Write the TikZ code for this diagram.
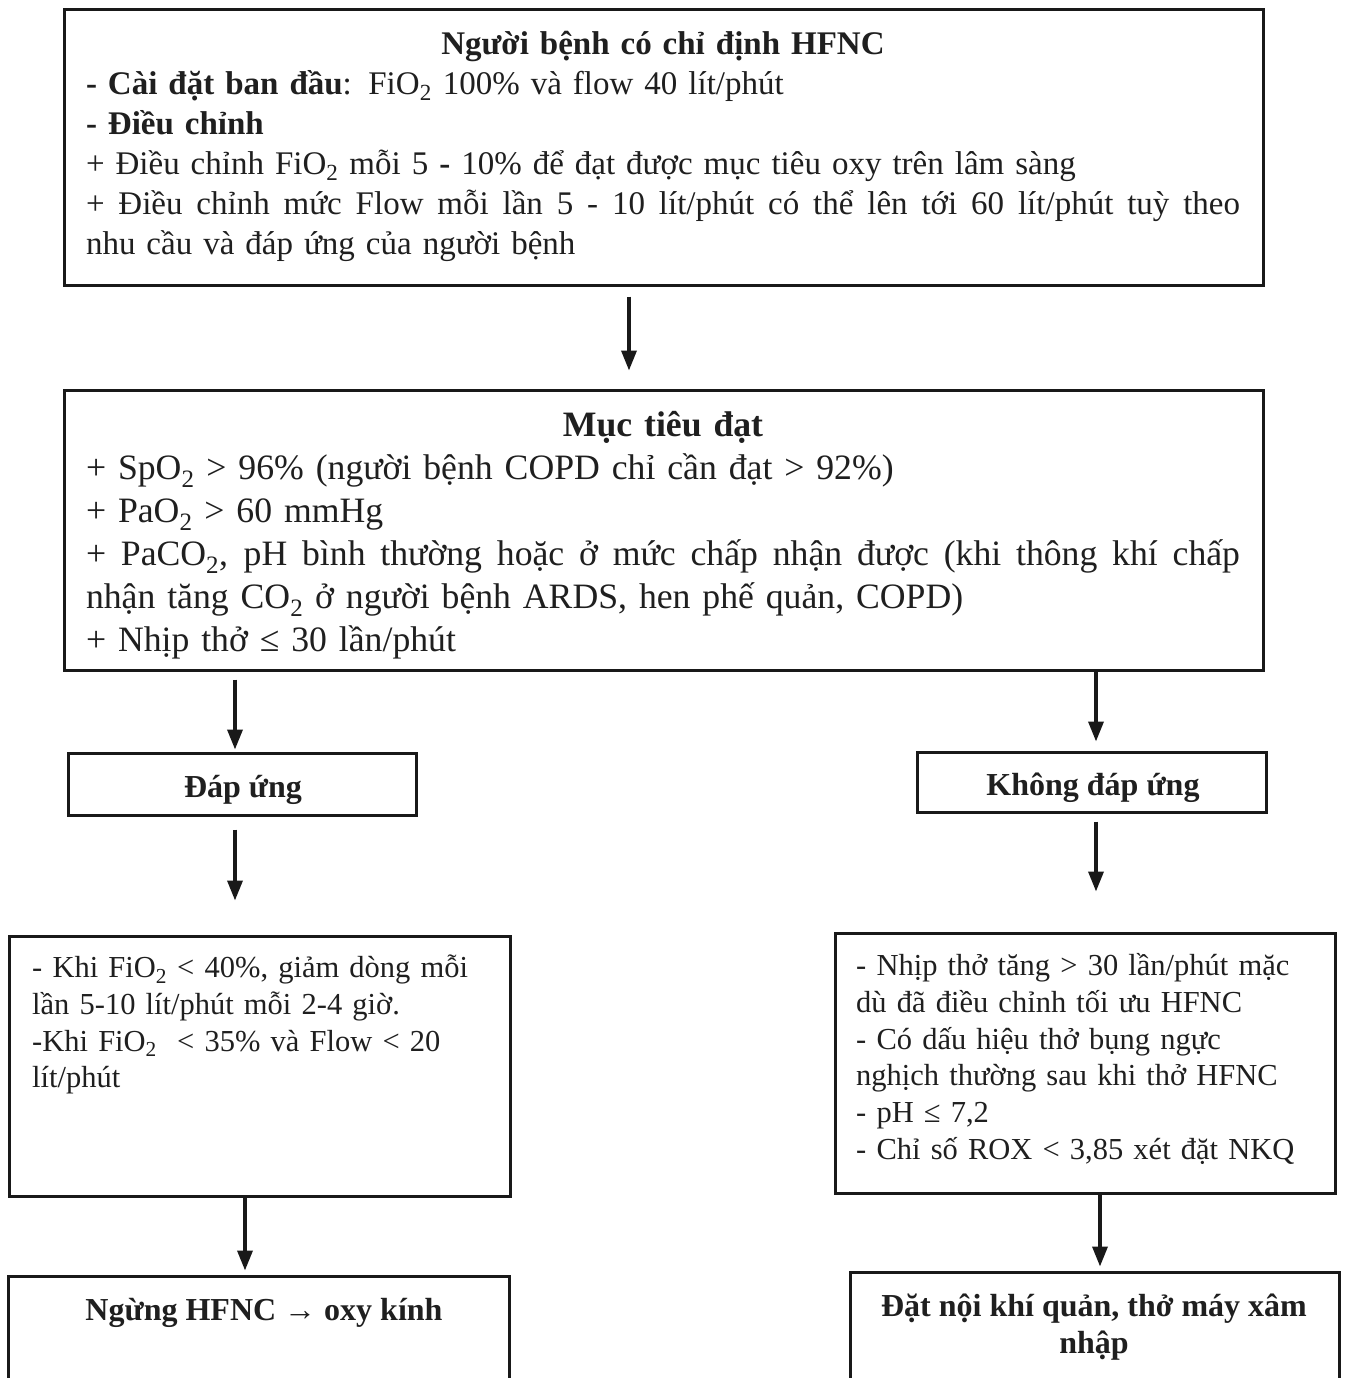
\documentclass[tikz,border=0pt]{standalone}
\usepackage{fontspec}
\setmainfont{Liberation Serif}
\usetikzlibrary{arrows.meta}
\newcommand{\dn}{\textsubscript{2}}
% a line set flush on both sides, its word spaces stretched
\newcommand{\fullline}[1]{\hbox to \hsize{\spaceskip=.3333em plus 1fil\relax #1}}
\hyphenpenalty=10000
\tolerance=9999
\begin{document}
\begin{tikzpicture}[x=1pt,y=-1pt,
  box/.style={draw=black!90, line width=3pt, inner sep=0pt},
  arr/.style={draw=black!90, line width=3.5pt, -{Triangle[length=20pt,width=15pt]}},
  txt/.style={inner sep=0pt, text=black!88},
  bodyA/.style={font=\fontsize{33}{40}\selectfont},
  bodyB/.style={font=\fontsize{35.7}{43}\selectfont},
  bodyC/.style={font=\fontsize{30.5}{36.7}\selectfont},
  headC/.style={font=\bfseries\fontsize{32}{37}\selectfont}]
\clip (0,0) rectangle (1349,1378);
\fill[white] (0,0) rectangle (1349,1378);

% boxes
\node[box, minimum width=1199pt, minimum height=275pt] (b1) at (663.5,147.5) {};
\node[box, minimum width=1199pt, minimum height=280pt] (b2) at (663.5,530) {};
\node[box, minimum width=348pt, minimum height=62pt] (dap) at (242,784) {};
\node[box, minimum width=349pt, minimum height=60pt] (khong) at (1091.5,782) {};
\node[box, minimum width=501pt, minimum height=260pt] (l3) at (259.5,1066) {};
\node[box, minimum width=500pt, minimum height=260pt] (r3) at (1085,1063) {};
\node[box, minimum width=501pt, minimum height=144pt] (l4) at (258.5,1348) {};
\node[box, minimum width=489pt, minimum height=146pt] (r4) at (1094.5,1345) {};

% texts
\node[txt, bodyA, text width=1154pt] (t1) at (663,146) {%
{\centering\bfseries Người bệnh có chỉ định HFNC\par}
\textbf{- Cài đặt ban đầu}: FiO\dn{} 100\% và flow 40 lít/phút\par
\textbf{- Điều chỉnh}\par
+ Điều chỉnh FiO\dn{} mỗi 5 \textbf{-} 10\% để đạt được mục tiêu oxy trên lâm sàng\par
\fullline{+ Điều chỉnh mức Flow mỗi lần 5 - 10 lít/phút có thể lên tới 60 lít/phút tuỳ theo}
nhu cầu và đáp ứng của người bệnh\par};

\node[txt, bodyB, text width=1154pt] (t2) at (663,535) {%
{\centering\bfseries Mục tiêu đạt\par}
+ SpO\dn{} > 96\% (người bệnh COPD chỉ cần đạt > 92\%)\par
+ PaO\dn{} > 60 mmHg\par
\fullline{+ PaCO\dn, pH bình thường hoặc ở mức chấp nhận được (khi thông khí chấp}
nhận tăng CO\dn{} ở người bệnh ARDS, hen phế quản, COPD)\par
+ Nhịp thở ≤ 30 lần/phút\par};

\node[txt, headC] (tdap) at (243,790) {Đáp ứng};
\node[txt, headC] (tkhong) at (1093,788) {Không đáp ứng};

\node[txt, bodyC, text width=460pt, align=left, anchor=north west] (tl3) at (32,955) {%
- Khi FiO\dn{} < 40\%, giảm dòng mỗi\\
lần 5-10 lít/phút mỗi 2-4 giờ.\\
-Khi FiO\dn{}~ < 35\% và Flow < 20\\
lít/phút};

\node[txt, bodyC, text width=470pt, align=left, anchor=north west] (tr3) at (856,953.5) {%
- Nhịp thở tăng > 30 lần/phút mặc\\
dù đã điều chỉnh tối ưu HFNC\\
- Có dấu hiệu thở bụng ngực\\
nghịch thường sau khi thở HFNC\\
- pH ≤ 7,2\\
- Chỉ số ROX < 3,85 xét đặt NKQ};

\node[txt, headC] (tl4) at (264,1313) {Ngừng HFNC → oxy kính};
\node[txt, headC, align=center] (tr4) at (1094,1327) {Đặt nội khí quản, thở máy xâm\\nhập};

% connectors
\draw[arr, shorten <=10pt, shorten >=18pt] ([xshift=-34.5pt]b1.south) -- ([xshift=-34.5pt]b2.north);
\draw[arr, shorten <=8pt, shorten >=2pt] ([xshift=-7pt]dap.north |- b2.south) -- ([xshift=-7pt]dap.north);
\draw[arr, shorten >=9pt] ([xshift=4.5pt]khong.north |- b2.south) -- ([xshift=4.5pt]khong.north);
\draw[arr, shorten <=13pt, shorten >=34pt] ([xshift=-7pt]dap.south) -- ([xshift=-7pt]dap.south |- l3.north);
\draw[arr, shorten <=8pt, shorten >=40pt] ([xshift=4.5pt]khong.south) -- ([xshift=4.5pt]khong.south |- r3.north);
\draw[arr, shorten >=4pt] ([xshift=-14.5pt]l3.south) -- ([xshift=-14.5pt]l3.south |- l4.north);
\draw[arr, shorten >=4pt] ([xshift=15pt]r3.south) -- ([xshift=15pt]r3.south |- r4.north);
\end{tikzpicture}
\end{document}
